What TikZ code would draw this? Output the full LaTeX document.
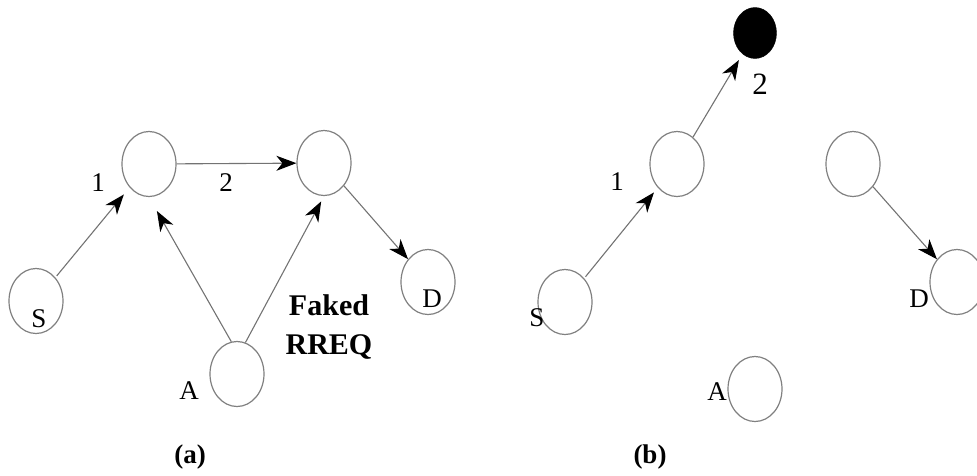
\documentclass[tikz,border=0pt]{standalone}
\usepackage{fontspec}
\setmainfont{Liberation Serif}
\usetikzlibrary{shapes.geometric,arrows.meta}
\begin{document}
\begin{tikzpicture}[x=1pt,y=-1pt,
  host/.style={ellipse,draw=black!50,line width=1.2pt,minimum width=54pt,minimum height=65pt,inner sep=0pt},
  rogue/.style={ellipse,fill=black,draw=black,minimum width=43pt,minimum height=51pt,inner sep=0pt},
  hop/.style={draw=black!55,line width=1.1pt,-{Stealth[black,length=20pt,width=15pt,inset=6pt]}},
  lbl/.style={font=\fontsize{27}{27}\selectfont,inner sep=0pt},
  biglbl/.style={font=\fontsize{31}{31}\selectfont,inner sep=0pt},
  boldlbl/.style={font=\fontsize{30}{39}\selectfont\bfseries,inner sep=0pt,align=center},
  caption/.style={font=\fontsize{27}{27}\selectfont\bfseries,inner sep=0pt}]
\useasboundingbox (0,0) rectangle (977,475);

% (a) route request with a forged RREQ
\node[host] (S)  at (36,301) {};
\node[host] (N1) at (149,164) {};
\node[host] (N2) at (324,163) {};
\node[host] (D)  at (428,282) {};
\node[host] (A)  at (237,374) {};

\draw[hop,shorten <=2pt,shorten >=9pt] (S) -- (N1);
\draw[hop] (N1) -- (N2);
\draw[hop,shorten >=16pt] (A.100) -- (N1.south);
\draw[hop,shorten >=6pt] (A.75) -- (N2.south);
\draw[hop] (N2) -- (D);

\node[lbl] (lS)  at (39,319) {S};
\node[lbl] (lD)  at (432,299) {D};
\node[lbl] (lA)  at (189,391) {A};
\node[lbl] (l1)  at (98,183) {1};
\node[lbl] (l2)  at (226,183) {2};
\node[boldlbl] (fake) at (329,327) {Faked\\RREQ};
\node[caption] (capa) at (190,457) {(a)};

% (b) route diverted towards the attacker
\node[host]  (Sb)  at (565,302) {};
\node[host]  (N1b) at (677,164) {};
\node[host]  (N2b) at (853,164) {};
\node[host]  (Db)  at (957,282) {};
\node[host]  (Ab)  at (755,389) {};
\node[rogue] (X)   at (755,33) {};

\draw[hop,shorten <=2pt,shorten >=6pt] (Sb) -- (N1b);
\draw[hop,shorten >=7pt] (N1b) -- (X);
\draw[hop] (N2b) -- (Db);

\node[lbl] (lSb) at (537,318) {S};
\node[lbl] (lDb) at (919,299) {D};
\node[lbl] (lAb) at (717,392) {A};
\node[lbl] (l1b) at (617,182) {1};
\node[biglbl] (l2b) at (760,84) {2};
\node[caption] (capb) at (650,457) {(b)};
\end{tikzpicture}
\end{document}
